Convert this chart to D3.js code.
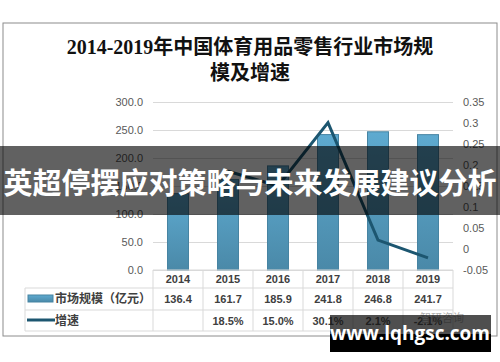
<!DOCTYPE html>
<html>
<head>
<meta charset="utf-8">
<script src="https://cdn.jsdelivr.net/npm/d3@7"></script>
<style>
  body { margin: 0; background: #fff; }
  svg { display: block; }
</style>
</head>
<body>
<div id="chart"></div>
<script>
// data
let years = ['2014', '2015', '2016', '2017', '2018', '2019'];
let marketSize = [136.4, 161.7, 185.9, 241.8, 246.8, 241.7];
let growth = [null, 0.185, 0.150, 0.301, 0.021, -0.021];
let growthLabels = ['', '18.5%', '15.0%', '30.1%', '2.1%', '-2.1%'];
let leftTicks = [0, 50, 100, 150, 200, 250, 300];
let rightTicks = [-0.05, 0, 0.05, 0.1, 0.15, 0.2, 0.25, 0.3, 0.35];
let titleLines = ['2014-2019年中国体育用品零售行业市场规', '模及增速'];
let seriesNames = ['市场规模（亿元）', '增速'];

let W = 500, H = 362;
let plotLeft = 153, plotRight = 453, plotTop = 102, plotBottom = 270;

let svg = d3.select('#chart').append('svg')
  .attr('width', W)
  .attr('height', H);

let defs = svg.append('defs');
let grad = defs.append('linearGradient')
  .attr('id', 'barGrad')
  .attr('x1', 0).attr('y1', 0).attr('x2', 0).attr('y2', 1);
grad.append('stop').attr('offset', '0%').attr('stop-color', '#5eaad0');
grad.append('stop').attr('offset', '100%').attr('stop-color', '#4a89a8');

// outer frame
svg.append('rect')
  .attr('x', 3).attr('y', 23)
  .attr('width', 494).attr('height', 313)
  .attr('fill', '#fff')
  .attr('stroke', '#8c8c8c');

// title
svg.append('g').selectAll('text')
  .data(titleLines)
  .enter()
  .append('text')
  .attr('x', 250)
  .attr('y', function(d, i) { return 54 + i * 26; })
  .attr('text-anchor', 'middle')
  .attr('font-family', '"Liberation Serif", "DejaVu Serif", "Noto Sans CJK SC", serif')
  .attr('font-weight', 'bold')
  .attr('font-size', 20)
  .attr('fill', '#111')
  .text(function(d) { return d; });

let x = d3.scaleBand()
  .domain(years)
  .range([plotLeft, plotRight]);

let yLeft = d3.scaleLinear()
  .domain([0, 300])
  .range([plotBottom, plotTop]);

let yRight = d3.scaleLinear()
  .domain([-0.05, 0.35])
  .range([plotBottom, plotTop]);

let labelFont = '"Liberation Sans", Arial, sans-serif';

// gridlines
let grid = svg.append('g')
  .attr('transform', 'translate(' + plotLeft + ',0)')
  .call(d3.axisLeft(yLeft).tickValues(leftTicks).tickSize(-(plotRight - plotLeft)).tickFormat(''));
grid.select('.domain').remove();
grid.selectAll('line').attr('stroke', '#d9d9d9');

// left axis
let axL = svg.append('g')
  .attr('transform', 'translate(143,0)')
  .call(d3.axisLeft(yLeft).tickValues(leftTicks).tickSize(0).tickPadding(0).tickFormat(d3.format('.1f')));
axL.select('.domain').remove();
axL.selectAll('text')
  .attr('font-family', labelFont)
  .attr('font-size', 11)
  .attr('fill', '#595959');

// right axis
let axR = svg.append('g')
  .attr('transform', 'translate(463,0)')
  .call(d3.axisRight(yRight).tickValues(rightTicks).tickSize(0).tickPadding(0)
    .tickFormat(function(d) { return String(+d.toFixed(2)); }));
axR.select('.domain').remove();
axR.selectAll('text')
  .attr('font-family', labelFont)
  .attr('font-size', 11)
  .attr('fill', '#595959');

// bars
let barW = 21;
svg.append('g').selectAll('rect')
  .data(marketSize)
  .enter()
  .append('rect')
  .attr('x', function(d, i) { return x(years[i]) + x.bandwidth() / 2 - barW / 2; })
  .attr('y', function(d) { return yLeft(d); })
  .attr('width', barW)
  .attr('height', function(d) { return plotBottom - yLeft(d); })
  .attr('fill', 'url(#barGrad)')
  .attr('stroke', '#4784a2')
  .attr('stroke-width', 1);

// growth line
let line = d3.line()
  .defined(function(d) { return d != null; })
  .x(function(d, i) { return x(years[i]) + x.bandwidth() / 2; })
  .y(function(d) { return yRight(d); });

svg.append('path')
  .datum(growth)
  .attr('d', line)
  .attr('fill', 'none')
  .attr('stroke', '#1c5670')
  .attr('stroke-width', 3)
  .attr('stroke-linejoin', 'miter');

// data table
let tableLeft = 25;
let rowY = [270, 288, 310, 331];
let table = svg.append('g')
  .attr('stroke', '#d9d9d9')
  .attr('stroke-width', 1);

// horizontal lines
table.append('line').attr('x1', plotLeft).attr('x2', plotRight).attr('y1', rowY[0]).attr('y2', rowY[0]);
[1, 2, 3].forEach(function(r) {
  table.append('line').attr('x1', tableLeft).attr('x2', plotRight).attr('y1', rowY[r]).attr('y2', rowY[r]);
});
// vertical lines
table.append('line').attr('x1', tableLeft).attr('x2', tableLeft).attr('y1', rowY[1]).attr('y2', rowY[3]);
years.forEach(function(y, i) {
  table.append('line')
    .attr('x1', x(y)).attr('x2', x(y))
    .attr('y1', rowY[0]).attr('y2', rowY[3]);
});
table.append('line').attr('x1', plotRight).attr('x2', plotRight).attr('y1', rowY[0]).attr('y2', rowY[3]);

let cellFont = '"Liberation Sans", "Noto Sans CJK SC", sans-serif';

function rowText(values, yPos) {
  svg.append('g').selectAll('text')
    .data(values)
    .enter()
    .append('text')
    .attr('x', function(d, i) { return x(years[i]) + x.bandwidth() / 2; })
    .attr('y', yPos)
    .attr('text-anchor', 'middle')
    .attr('font-family', cellFont)
    .attr('font-weight', 'bold')
    .attr('font-size', 11)
    .attr('fill', '#404040')
    .text(function(d) { return d; });
}
rowText(years, 283);
rowText(marketSize.map(d3.format('.1f')), 303);
rowText(growthLabels, 325);

// legend keys in table
svg.append('rect')
  .attr('x', 28).attr('y', 295)
  .attr('width', 25).attr('height', 7)
  .attr('fill', 'url(#barGrad)')
  .attr('stroke', '#4784a2');
svg.append('line')
  .attr('x1', 27).attr('x2', 55)
  .attr('y1', 320).attr('y2', 320)
  .attr('stroke', '#1c5670')
  .attr('stroke-width', 3);
svg.append('g').selectAll('text')
  .data(seriesNames)
  .enter()
  .append('text')
  .attr('x', 55)
  .attr('y', function(d, i) { return 303 + i * 22; })
  .attr('font-family', '"Noto Sans CJK SC", sans-serif')
  .attr('font-weight', 'bold')
  .attr('font-size', 12)
  .attr('fill', '#404040')
  .text(function(d) { return d; });

// source watermark
svg.append('text')
  .attr('x', 442).attr('y', 322)
  .attr('text-anchor', 'middle')
  .attr('font-family', '"Noto Sans CJK SC", sans-serif')
  .attr('font-size', 11)
  .attr('fill', '#b0b0b0')
  .text('智研咨询');

// headline banner
svg.append('rect')
  .attr('x', 0).attr('y', 146)
  .attr('width', W).attr('height', 69)
  .attr('fill', 'rgba(0,0,0,0.62)');
svg.append('text')
  .attr('x', 250).attr('y', 194)
  .attr('text-anchor', 'middle')
  .attr('font-family', '"Noto Sans CJK SC", sans-serif')
  .attr('font-weight', 'bold')
  .attr('font-size', 29)
  .attr('fill', '#fff')
  .text('英超停摆应对策略与未来发展建议分析');

// site watermark
svg.append('rect')
  .attr('x', 330).attr('y', 315)
  .attr('width', 161).attr('height', 19)
  .attr('fill', 'rgba(20,20,20,0.75)');
svg.append('rect')
  .attr('x', 330).attr('y', 334)
  .attr('width', 161).attr('height', 18)
  .attr('fill', '#000');
svg.append('text')
  .attr('x', 410).attr('y', 340)
  .attr('text-anchor', 'middle')
  .attr('font-family', '"Open Sans", "DejaVu Sans", sans-serif')
  .attr('font-weight', 'bold')
  .attr('font-size', 19)
  .attr('fill', '#fff')
  .text('www.lqhgsc.com');
</script>
</body>
</html>
